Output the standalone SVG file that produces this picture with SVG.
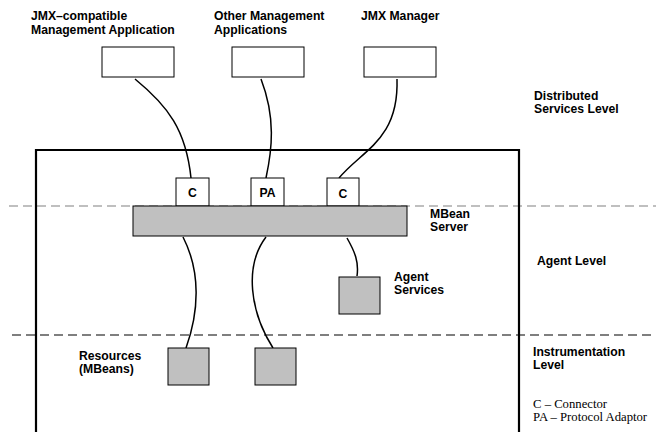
<svg xmlns="http://www.w3.org/2000/svg" width="656" height="432" viewBox="0 0 656 432">
<style>
.lbl{font-family:"Liberation Sans",Arial,Helvetica,sans-serif;font-weight:bold;font-size:12.2px;fill:#000}
.leg{font-family:"Liberation Serif","Times New Roman",serif;font-size:12.7px;fill:#000}
.box{fill:#fff;stroke:#000;stroke-width:1}
.gray{fill:#c0c0c0;stroke:#000;stroke-width:1}
.wire{fill:none;stroke:#000;stroke-width:1.5}
.dash{fill:none;stroke-width:1.2;stroke-dasharray:9 5}
</style>
<rect width="656" height="432" fill="#fff"/>
<g id="levels">
<line class="dash" x1="9" y1="206" x2="656" y2="206" stroke="#808080"/>
<line class="dash" x1="12" y1="335" x2="656" y2="335" stroke="#000"/>
</g>
<g id="agent-frame">
<path d="M36,432 V150 H519 V432" fill="none" stroke="#000" stroke-width="2.2"/>
</g>
<g id="connectors">
<path class="wire" d="M135,79 C168,106 186,130 191,178"/>
<path class="wire" d="M261,79 C276,118 272,150 266,178"/>
<path class="wire" d="M397,79 C399,140 362,150 339,178"/>
<path class="wire" d="M183,237 C201,272 199,312 186,348"/>
<path class="wire" d="M266,237 C244,266 250,312 273,348"/>
<path class="wire" d="M347,238 C355,252 359,262 357,276"/>
</g>
<g id="jmx-app">
<text class="lbl" x="31" y="20">JMX–compatible</text>
<text class="lbl" x="31" y="33.5">Management Application</text>
<rect class="box" x="102" y="47" width="72" height="30"/>
</g>
<g id="other-app">
<text class="lbl" x="214" y="20">Other Management</text>
<text class="lbl" x="214" y="33.5">Applications</text>
<rect class="box" x="232" y="47" width="72" height="30"/>
</g>
<g id="jmx-manager">
<text class="lbl" x="361" y="20">JMX Manager</text>
<rect class="box" x="364" y="47" width="72" height="30"/>
</g>
<g id="c1">
<rect class="box" x="176" y="178" width="33" height="28"/>
<text class="lbl" x="192.5" y="197" text-anchor="middle">C</text>
</g>
<g id="pa">
<rect class="box" x="251" y="178" width="33" height="28"/>
<text class="lbl" x="267.5" y="197" text-anchor="middle">PA</text>
</g>
<g id="c2">
<rect class="box" x="327" y="178" width="32" height="28"/>
<text class="lbl" x="343" y="198" text-anchor="middle">C</text>
</g>
<g id="mbean-server">
<rect class="gray" x="133" y="206" width="274" height="30"/>
<text class="lbl" x="430" y="217.5">MBean</text>
<text class="lbl" x="430" y="231">Server</text>
</g>
<g id="agent-services">
<rect class="gray" x="339" y="277" width="41" height="37"/>
<text class="lbl" x="394" y="280.5">Agent</text>
<text class="lbl" x="394" y="293.5">Services</text>
</g>
<g id="resource1">
<rect class="gray" x="168" y="348" width="41" height="37"/>
</g>
<g id="resource2">
<rect class="gray" x="255" y="348" width="41" height="37"/>
</g>
<text class="lbl" x="79" y="359.5">Resources</text>
<text class="lbl" x="79" y="372.5">(MBeans)</text>
<text class="lbl" x="534" y="99.5">Distributed</text>
<text class="lbl" x="534" y="112.5">Services Level</text>
<text class="lbl" x="537" y="265">Agent Level</text>
<text class="lbl" x="533" y="355.5">Instrumentation</text>
<text class="lbl" x="533" y="368.5">Level</text>
<text class="leg" x="533" y="408">C – Connector</text>
<text class="leg" x="533" y="421">PA – Protocol Adaptor</text>
</svg>
